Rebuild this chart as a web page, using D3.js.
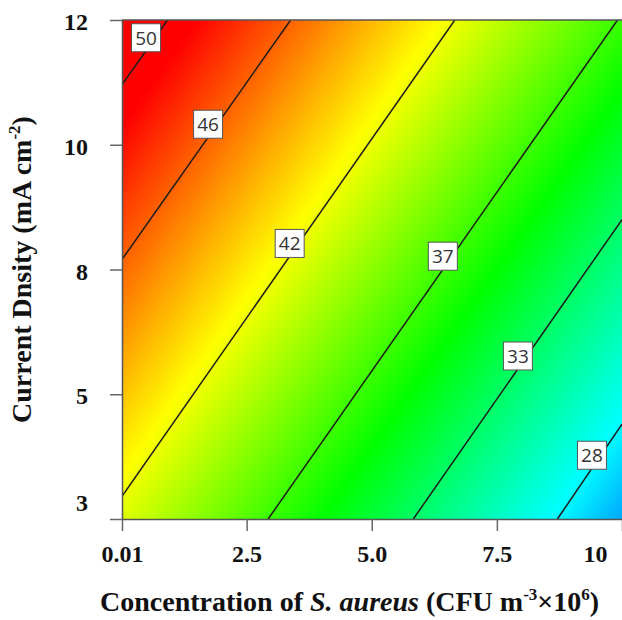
<!DOCTYPE html>
<html><head><meta charset="utf-8">
<script src="https://cdn.jsdelivr.net/npm/d3@7"></script>
<style>body{margin:0;background:#fff} svg{display:block}</style>
</head><body>
<svg id="chart" width="622" height="620"></svg>
<script>
// ---- data ----
const xTicks = [0.01, 2.5, 5.0, 7.5, 10];
const xTickLabels = ["0.01", "2.5", "5.0", "7.5", "10"];
const yTicks = [3, 5.25, 7.5, 9.75, 12];
const yTickLabels = ["3", "5", "8", "10", "12"];
const contourLevels = [50, 46, 42, 37, 33, 28];
const contourStartX = [0.01, 0.01, 0.01, 2.93, 5.83, 8.71];
const contourStartY = [10.83, 7.68, 3.41, 3, 3, 3];
const contourEndX = [0.92, 3.38, 6.66, 9.91, 10, 10];
const contourEndY = [12, 12, 12, 12, 8.4, 4.71];
const labelX = [0.49, 1.73, 3.36, 6.42, 7.92, 9.40];
const labelY = [11.68, 10.12, 7.97, 7.74, 5.94, 4.15];
// colour ramp: where each colour crosses the bottom edge (y = 3), in x units
const rampColors = ["#ff0000", "#ffff00", "#00ff00", "#00ffff", "#0000ff"];
const rampBottomX = [-5.48, -0.59, 4.01, 8.60, 12.7];

// ---- layout ----
const svg = d3.select("#chart");
const x = d3.scaleLinear().domain([0.01, 10]).range([122, 622]);
const y = d3.scaleLinear().domain([3, 12]).range([519, 20]);
const serif = "'Liberation Serif','Times New Roman',serif";

// gradient perpendicular to contour direction
const lines = contourLevels.map((lv, i) => ({
  level: lv,
  pts: [[contourStartX[i], contourStartY[i]], [contourEndX[i], contourEndY[i]]],
  lx: labelX[i], ly: labelY[i]
}));
const ref = lines[3].pts;
const dx = x(ref[1][0]) - x(ref[0][0]);
const dy = y(ref[1][1]) - y(ref[0][1]);
const len = Math.hypot(dx, dy);
const nx = -dy / len, ny = dx / len; // perpendicular (pointing right/down)
const p1x = x(rampBottomX[0]), p1y = y(3);
const pLast = x(rampBottomX[rampBottomX.length - 1]);
const L = (pLast - p1x) * nx;
const defs = svg.append("defs");
const grad = defs.append("linearGradient").attr("id", "field")
  .attr("gradientUnits", "userSpaceOnUse")
  .attr("x1", p1x).attr("y1", p1y)
  .attr("x2", p1x + L * nx).attr("y2", p1y + L * ny);
grad.selectAll("stop").data(rampColors).join("stop")
  .attr("offset", (c, i) => (x(rampBottomX[i]) - p1x) / (pLast - p1x))
  .attr("stop-color", c => c);

defs.append("clipPath").attr("id", "plotclip").append("rect")
  .attr("x", x(0.01)).attr("y", y(12))
  .attr("width", x(10) - x(0.01)).attr("height", y(3) - y(12));

svg.append("rect")
  .attr("x", x(0.01)).attr("y", y(12))
  .attr("width", x(10) - x(0.01)).attr("height", y(3) - y(12))
  .attr("fill", "url(#field)");

const gLines = svg.append("g").attr("clip-path", "url(#plotclip)");
const lineGen = d3.line().x(d => x(d[0])).y(d => y(d[1]));
gLines.selectAll("path").data(lines).join("path")
  .attr("d", d => lineGen(d.pts))
  .attr("fill", "none").attr("stroke", "#1c1c1c").attr("stroke-width", 1.5);

const gLab = svg.append("g").selectAll("g").data(lines).join("g")
  .attr("transform", d => `translate(${x(d.lx)},${y(d.ly)})`);
gLab.append("rect").attr("x", -14.5).attr("y", -14).attr("width", 29).attr("height", 28)
  .attr("fill", "#fff").attr("stroke", "#555").attr("stroke-width", 1);
gLab.append("text").attr("text-anchor", "middle").attr("dy", "0.36em")
  .attr("font-family", "'Open Sans','Noto Sans',sans-serif").attr("font-size", 19)
  .attr("fill", "#333").text(d => d.level);

// top border
svg.append("line").attr("x1", x(0.01)).attr("x2", x(10)).attr("y1", y(12)).attr("y2", y(12))
  .attr("stroke", "#555").attr("stroke-width", 1.5);

// axes
const xAxis = svg.append("g").attr("transform", `translate(0,${y(3)})`)
  .call(d3.axisBottom(x).tickValues(xTicks).tickFormat((d, i) => xTickLabels[i])
    .tickSize(12).tickSizeOuter(0).tickPadding(14));
const yAxis = svg.append("g").attr("transform", `translate(${x(0.01)},0)`)
  .call(d3.axisLeft(y).tickValues(yTicks).tickFormat((d, i) => yTickLabels[i])
    .tickSize(12).tickSizeOuter(0).tickPadding(22));
[xAxis, yAxis].forEach(a => {
  a.select(".domain").attr("stroke", "#555").attr("stroke-width", 1.5);
  a.selectAll(".tick line").attr("stroke", "#666").attr("stroke-width", 1.5);
  a.selectAll(".tick text").attr("font-family", serif).attr("font-size", 24)
    .attr("font-weight", "bold").attr("fill", "#111");
});
xAxis.selectAll(".tick text").filter((d, i) => i === xTicks.length - 1).attr("dx", -27);
yAxis.selectAll(".tick text").attr("dy", "0.4em");
yAxis.selectAll(".tick text").filter((d, i) => i === 0).attr("dy", "-0.37em");

// axis titles
const xt = svg.append("text").attr("x", 100).attr("y", 611)
  .attr("font-family", serif).attr("font-size", 28).attr("font-weight", "bold").attr("fill", "#111");
xt.append("tspan").text("Concentration of ");
xt.append("tspan").attr("font-style", "italic").text("S. aureus");
xt.append("tspan").text(" (CFU m");
xt.append("tspan").attr("font-size", 17).attr("dy", -11).text("-3");
xt.append("tspan").attr("dy", 11).text("×10");
xt.append("tspan").attr("font-size", 17).attr("dy", -11).text("6");
xt.append("tspan").attr("dy", 11).text(")");

const yt = svg.append("text").attr("transform", "rotate(-90)")
  .attr("x", -(y(3) + y(12)) / 2).attr("y", 31).attr("text-anchor", "middle")
  .attr("font-family", serif).attr("font-size", 28).attr("font-weight", "bold").attr("fill", "#111");
yt.append("tspan").text("Current Dnsity (mA cm");
yt.append("tspan").attr("font-size", 17).attr("dy", -11).text("-2");
yt.append("tspan").attr("dy", 11).text(")");
</script>
</body></html>
